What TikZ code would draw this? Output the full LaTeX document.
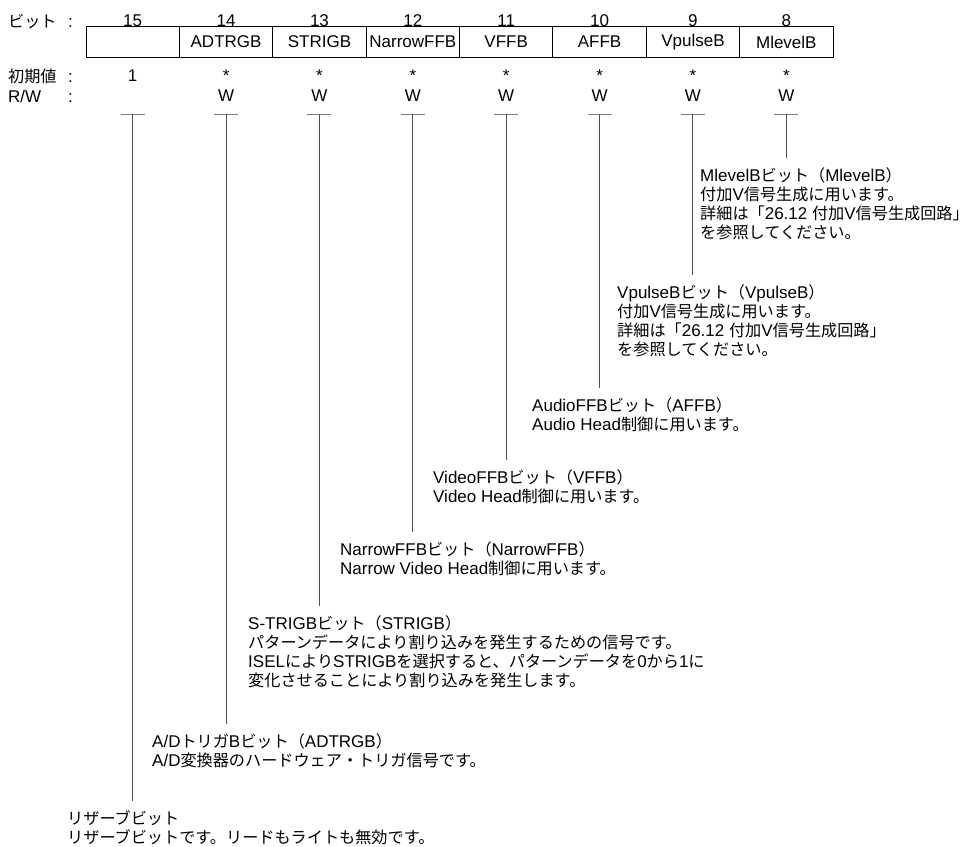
\documentclass[tikz,border=0pt]{standalone}
\usepackage{fontspec}
\setmainfont{Liberation Sans}
\newfontfamily\jpfont[Scale=0.95]{Noto Sans CJK JP}
\definecolor{regInk}  {RGB}{  0,  0,  0}
\definecolor{regGrey} {RGB}{ 80, 80, 80}
\definecolor{regGreyL}{RGB}{125,125,125}
% Japanese runs are set in the CJK font
\XeTeXinterchartokenstate=1
\chardef\jpclass=200
\newcount\jpcode
\jpcode="3000
\loop
  \XeTeXcharclass\jpcode=\jpclass
  \advance\jpcode by 1
\ifnum\jpcode<"A000 \repeat
\jpcode="FF00
\loop
  \XeTeXcharclass\jpcode=\jpclass
  \advance\jpcode by 1
\ifnum\jpcode<"FFF0 \repeat
\XeTeXinterchartoks 0 \jpclass = {\jpfont}
\XeTeXinterchartoks 4095 \jpclass = {\jpfont}
\XeTeXinterchartoks \jpclass 0 = {\rmfamily}
\XeTeXinterchartoks \jpclass 4095 = {\rmfamily}

\begin{document}
\begin{tikzpicture}[x=1pt,y=-1pt,
    every node/.style={font=\fontsize{17}{19}\selectfont,inner sep=0pt},
    cell/.style={draw=regInk,line width=0.9pt,minimum width=93.4pt,
                 minimum height=31pt},
    rwbar/.style={draw=regGreyL,line width=1pt},
    lead/.style={draw=regGrey,line width=1pt,shorten >=9pt},
    desc/.style={anchor=north west,align=left}
  ]
  \useasboundingbox (0,0) rectangle (968,846);
  % Row labels
  \node[anchor=west] (lbit)  at (8,21) {\makebox[60pt][l]{ビット}:};
  \node[anchor=west] (linit) at (8,76) {\makebox[60pt][l]{初期値}:};
  \node[anchor=west] (lrw)   at (8,96) {\makebox[60pt][l]{R/W}:};
  % Register cells
  \foreach \b/\nm/\iv/\rw [count=\i from 0] in
      {15/{}/1/{},14/ADTRGB/*/W,13/STRIGB/*/W,12/NarrowFFB/*/W,
       11/VFFB/*/W,10/AFFB/*/W,9/VpulseB/*/W,8/MlevelB/*/W}{
    \pgfmathsetmacro\x{132.7+93.375*\i}
    \node[cell] (c\b) at (\x,42) {\nm};
    \node (n\b) at (\x,21) {\b};
    \node (i\b) at (\x,76) {\iv};
    \node (w\b) at (\x,96) {\rw};
    \coordinate (t\b) at (\x,114);
    \draw[rwbar] ([xshift=-12pt]t\b) -- ([xshift=12pt]t\b);
  }
  % Bit descriptions
  \node[desc] (d8) at (700,167)
    {MlevelBビット（MlevelB）\\付加V信号生成に用います。\\
     詳細は「26.12 付加V信号生成回路」\\を参照してください。};
  \node[desc] (d9) at (617,284)
    {VpulseBビット（VpulseB）\\付加V信号生成に用います。\\
     詳細は「26.12 付加V信号生成回路」\\を参照してください。};
  \node[desc] (d10) at (532,397)
    {AudioFFBビット（AFFB）\\Audio Head制御に用います。};
  \node[desc] (d11) at (433,469)
    {VideoFFBビット（VFFB）\\Video Head制御に用います。};
  \node[desc] (d12) at (340,541)
    {NarrowFFBビット（NarrowFFB）\\Narrow Video Head制御に用います。};
  \node[desc] (d13) at (248,615)
    {S-TRIGBビット（STRIGB）\\パターンデータにより割り込みを発生するための信号です。\\
     ISELによりSTRIGBを選択すると、パターンデータを0から1に\\
     変化させることにより割り込みを発生します。};
  \node[desc] (d14) at (152,733)
    {A/DトリガBビット（ADTRGB）\\A/D変換器のハードウェア・トリガ信号です。};
  \node[desc] (d15) at (67,810)
    {リザーブビット\\リザーブビットです。リードもライトも無効です。};
  % Leaders
  \draw[lead] (t8)  -- (t8  |- d8.north);
  \draw[lead] (t9)  -- (t9  |- d9.north);
  \draw[lead] (t10) -- (t10 |- d10.north);
  \draw[lead] (t11) -- (t11 |- d11.north);
  \draw[lead] (t12) -- (t12 |- d12.north);
  \draw[lead] (t13) -- (t13 |- d13.north);
  \draw[lead] (t14) -- (t14 |- d14.north);
  \draw[lead] (t15) -- (t15 |- d15.north);
\end{tikzpicture}
\end{document}
